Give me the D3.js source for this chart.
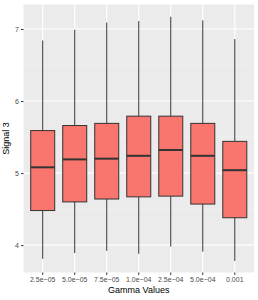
<!DOCTYPE html>
<html>
<head>
<meta charset="utf-8">
<script src="https://cdn.jsdelivr.net/npm/d3@7"></script>
<style>
  body { margin: 0; background: #fff; }
  text { font-family: "Liberation Sans", Arial, sans-serif; }
</style>
</head>
<body>
<div id="box_plot"></div>
<script>
// box stats
var gammas = ["2.5e\u221205", "5.0e\u221205", "7.5e\u221205", "1.0e\u221204", "2.5e\u221204", "5.0e\u221204", "0.001"];
var whiskerLow  = [3.81, 3.89, 3.92, 3.88, 3.98, 3.91, 3.78];
var q1s         = [4.48, 4.60, 4.64, 4.67, 4.68, 4.57, 4.38];
var medians     = [5.08, 5.19, 5.20, 5.24, 5.32, 5.24, 5.04];
var q3s         = [5.59, 5.66, 5.69, 5.79, 5.79, 5.69, 5.44];
var whiskerHigh = [6.84, 6.99, 7.09, 7.11, 7.17, 7.12, 6.86];
var yTicks = [4, 5, 6, 7];

var margin = {top: 4.5, right: 4, bottom: 27.5, left: 23.5},
    width = 258 - margin.left - margin.right,
    height = 300 - margin.top - margin.bottom;

var svg = d3.select("#box_plot")
  .append("svg")
    .attr("width", 258)
    .attr("height", 300)
  .append("g")
    .attr("transform", "translate(" + margin.left + "," + margin.top + ")");

var sumstat = gammas.map(function(g, i) {
  return {gamma: g, min: whiskerLow[i], q1: q1s[i], median: medians[i], q3: q3s[i], max: whiskerHigh[i]};
});

// panel background
svg.append("rect")
  .attr("width", width)
  .attr("height", height)
  .attr("fill", "#ebebeb");

var x = d3.scaleBand()
  .range([0, width])
  .domain(gammas)
  .paddingInner(0)
  .paddingOuter(0.1);

var y = d3.scaleLinear()
  .domain([3.62, 7.34])
  .range([height, 0]);

// minor grid
var minor = [3.5, 4.5, 5.5, 6.5].filter(function(v){ return v > 3.62 && v < 7.34; });
svg.selectAll("minorGrid")
  .data(minor)
  .enter()
  .append("line")
    .attr("x1", 0).attr("x2", width)
    .attr("y1", function(d){ return y(d); })
    .attr("y2", function(d){ return y(d); })
    .attr("stroke", "#f5f5f5")
    .attr("stroke-width", 0.55);

// major grid
svg.selectAll("majorGrid")
  .data(yTicks)
  .enter()
  .append("line")
    .attr("x1", 0).attr("x2", width)
    .attr("y1", function(d){ return y(d); })
    .attr("y2", function(d){ return y(d); })
    .attr("stroke", "#fff")
    .attr("stroke-width", 1.1);

svg.selectAll("xGrid")
  .data(gammas)
  .enter()
  .append("line")
    .attr("x1", function(d){ return x(d) + x.bandwidth()/2; })
    .attr("x2", function(d){ return x(d) + x.bandwidth()/2; })
    .attr("y1", 0).attr("y2", height)
    .attr("stroke", "#fff")
    .attr("stroke-width", 1.1);

// axes
var yAxis = svg.append("g")
  .call(d3.axisLeft(y).tickValues(yTicks).tickSize(2.5).tickPadding(2).tickFormat(d3.format("d")));
yAxis.select(".domain").remove();
yAxis.selectAll("line").attr("stroke", "#333");
yAxis.selectAll("text").attr("fill", "#4d4d4d").style("font-size", "7px");

var xAxis = svg.append("g")
  .attr("transform", "translate(0," + height + ")")
  .call(d3.axisBottom(x).tickSize(2.5).tickPadding(2));
xAxis.select(".domain").remove();
xAxis.selectAll("line").attr("stroke", "#333");
xAxis.selectAll("text").attr("fill", "#4d4d4d").style("font-size", "7px");

var boxWidth = x.bandwidth() * 0.75;
var cx = function(d){ return x(d.gamma) + x.bandwidth()/2; };

// whiskers
svg.selectAll("vertLines")
  .data(sumstat)
  .enter()
  .append("line")
    .attr("x1", cx)
    .attr("x2", cx)
    .attr("y1", function(d){ return y(d.min); })
    .attr("y2", function(d){ return y(d.max); })
    .attr("stroke", "#333")
    .attr("stroke-width", 1);

// boxes
svg.selectAll("boxes")
  .data(sumstat)
  .enter()
  .append("rect")
    .attr("x", function(d){ return cx(d) - boxWidth/2; })
    .attr("y", function(d){ return y(d.q3); })
    .attr("height", function(d){ return y(d.q1) - y(d.q3); })
    .attr("width", boxWidth)
    .attr("stroke", "#333")
    .attr("stroke-width", 1)
    .style("fill", "#f8766d");

// medians
svg.selectAll("medianLines")
  .data(sumstat)
  .enter()
  .append("line")
    .attr("x1", function(d){ return cx(d) - boxWidth/2; })
    .attr("x2", function(d){ return cx(d) + boxWidth/2; })
    .attr("y1", function(d){ return y(d.median); })
    .attr("y2", function(d){ return y(d.median); })
    .attr("stroke", "#333")
    .attr("stroke-width", 2);

// titles
svg.append("text")
  .attr("x", width/2)
  .attr("y", height + 20)
  .attr("text-anchor", "middle")
  .style("font-size", "9px")
  .attr("fill", "#000")
  .text("Gamma Values");

svg.append("text")
  .attr("transform", "translate(" + (-14.5) + "," + (height/2) + ") rotate(-90)")
  .attr("text-anchor", "middle")
  .style("font-size", "9px")
  .attr("fill", "#000")
  .text("Signal 3");
</script>
</body>
</html>
